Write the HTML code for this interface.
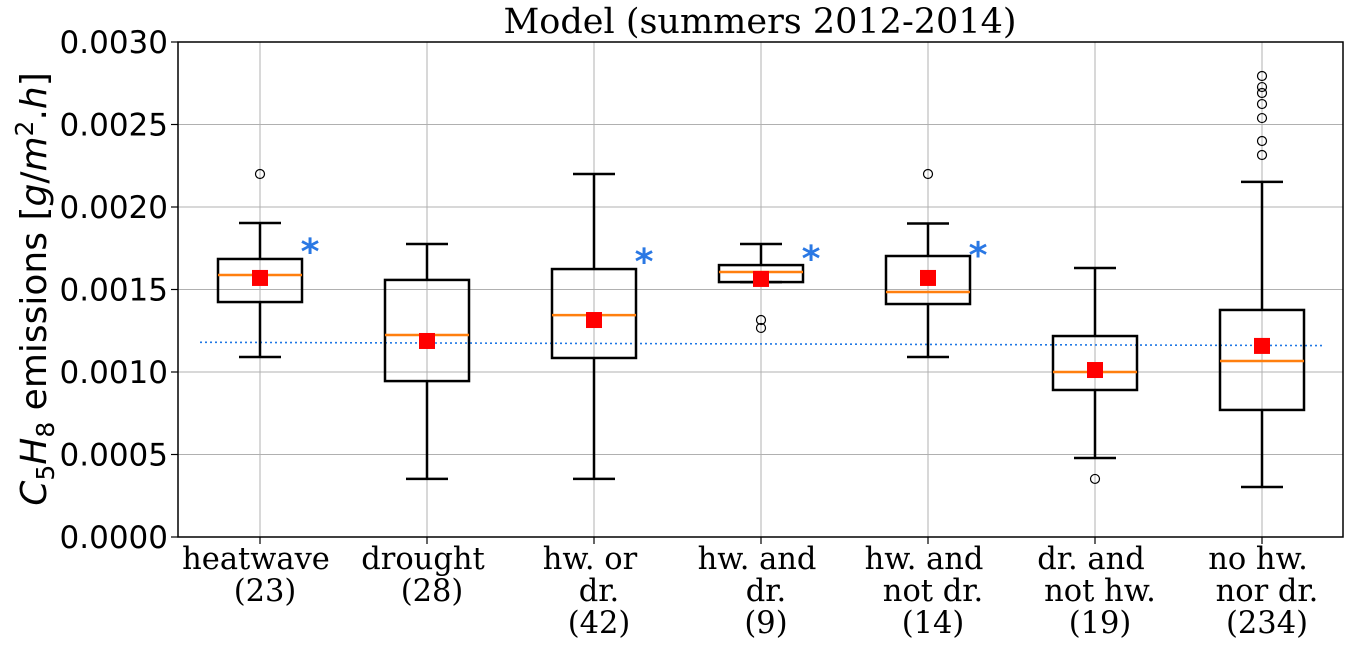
<!DOCTYPE html>
<html><head><meta charset="utf-8"><style>
body{margin:0;background:#fff;width:1359px;height:647px;overflow:hidden}
svg text{fill:#000}
</style></head><body>
<svg id="chart" width="1359" height="647" xmlns="http://www.w3.org/2000/svg">
<text x="760" y="33" text-anchor="middle" font-family="'DejaVu Serif','Liberation Serif',serif" font-size="35">Model (summers 2012-2014)</text>
<g id="grid"></g><g id="yticks"></g><g id="boxes"></g><g id="xlabels"></g>
<text transform="translate(46,289) rotate(-90)" text-anchor="middle" font-family="'DejaVu Sans','Liberation Sans',sans-serif" font-size="36"><tspan font-style="italic">C</tspan><tspan font-size="25" dy="8">5</tspan><tspan font-style="italic" dy="-8">H</tspan><tspan font-size="25" dy="8">8</tspan><tspan dy="-8"> emissions [</tspan><tspan font-style="italic">g</tspan><tspan>/</tspan><tspan font-style="italic">m</tspan><tspan font-size="25" dy="-13">2</tspan><tspan dy="13">.</tspan><tspan font-style="italic">h</tspan><tspan>]</tspan></text>
<rect x="178" y="42" width="1165" height="495" fill="none" stroke="#000" stroke-width="1.5"/>
</svg>
<script>
const categories=["heatwave\n(23)","drought\n(28)","hw. or\ndr.\n(42)","hw. and\ndr.\n(9)","hw. and\nnot dr.\n(14)","dr. and\nnot hw.\n(19)","no hw.\nnor dr.\n(234)"];
const whiskLo=[0.001091,0.000352,0.000352,0.001545,0.001091,0.000479,0.000303];
const q1=[0.001424,0.000945,0.001085,0.001545,0.001412,0.000891,0.00077];
const medians=[0.001588,0.001224,0.001345,0.001606,0.001485,0.001,0.001067];
const q3=[0.001685,0.001558,0.001624,0.001648,0.001703,0.001218,0.001376];
const whiskHi=[0.001903,0.001776,0.0022,0.001776,0.0019,0.00163,0.002152];
const means=[0.00157,0.001188,0.001315,0.001564,0.00157,0.001012,0.001158];
const outliers=[[0.0022],[],[],[0.001315,0.001267],[0.0022],[0.000352],[0.002794,0.002727,0.002691,0.002624,0.002539,0.0024,0.002315]];
const starValues=[0.00177,null,0.00171,0.001727,0.00175,null,null];
const refLine=[0.00118,0.00116];
const yTicks=[0,0.0005,0.001,0.0015,0.002,0.0025,0.003];
const yTickLabels=["0.0000","0.0005","0.0010","0.0015","0.0020","0.0025","0.0030"];
const NS="http://www.w3.org/2000/svg";
const L=178,R=1343,T=42,B=537;
const y=v=>B-(v/0.003)*(B-T);
const x=i=>260+i*167;
function mk(tag,attrs,parent){const e=document.createElementNS(NS,tag);for(const k in attrs)e.setAttribute(k,attrs[k]);document.getElementById(parent).appendChild(e);return e;}
yTicks.forEach((v,i)=>{
 const g=mk('line',{x1:L,x2:R,y1:y(v),y2:y(v),stroke:'#b0b0b0','stroke-width':1},'grid');
 
 
 const t=mk('line',{x1:L-7,x2:L,y1:y(v),y2:y(v),stroke:'#000','stroke-width':1.2},'yticks');
 
 
 const tx=mk('text',{x:L-10,y:y(v)+11,'text-anchor':'end','font-family':"'DejaVu Sans','Liberation Sans',sans-serif",'font-size':31},'yticks');
 tx.textContent=yTickLabels[i];
 
 
});
categories.forEach((c,i)=>{
 const cx=x(i);
 const g=mk('line',{x1:cx,x2:cx,y1:T,y2:B,stroke:'#b0b0b0','stroke-width':1},'grid');
 
 
 const tk=mk('line',{x1:cx,x2:cx,y1:B,y2:B+7,stroke:'#000','stroke-width':1.2},'xlabels');
 
 
 c.split("\n").forEach((ln,j)=>{
  const t=mk('text',{x:cx+(j>0?5:-4),y:569+j*32,'text-anchor':'middle','font-family':"'DejaVu Serif','Liberation Serif',serif",'font-size':30.5},'xlabels');
  t.textContent=ln;
  
  
 });
});
const rl=mk('line',{x1:200,x2:1325,y1:y(refLine[0]),y2:y(refLine[1]),stroke:'#1f77e4','stroke-width':1.6,'stroke-dasharray':'2,3'},'grid');


categories.forEach((c,i)=>{
 const cx=x(i),hw=42,cw=21;
 const s={stroke:'#000','stroke-width':2.5,fill:'none'};
 const w1=mk('line',Object.assign({x1:cx,x2:cx,y1:y(q1[i]),y2:y(whiskLo[i])},s),'boxes');
 
 
 const w2=mk('line',Object.assign({x1:cx,x2:cx,y1:y(q3[i]),y2:y(whiskHi[i])},s),'boxes');
 
 
 const c1=mk('line',Object.assign({x1:cx-cw,x2:cx+cw,y1:y(whiskLo[i]),y2:y(whiskLo[i])},s),'boxes');
 
 
 const c2=mk('line',Object.assign({x1:cx-cw,x2:cx+cw,y1:y(whiskHi[i]),y2:y(whiskHi[i])},s),'boxes');
 
 
 const bx=mk('rect',Object.assign({x:cx-hw,y:y(q3[i]),width:2*hw,height:y(q1[i])-y(q3[i])},s),'boxes');
 
 
 const md=mk('line',{x1:cx-hw,x2:cx+hw,y1:y(medians[i]),y2:y(medians[i]),stroke:'#ff7f0e','stroke-width':2.5},'boxes');
 
 
 outliers[i].forEach(o=>{
  const p=mk('circle',{cx:cx,cy:y(o),r:4.5,fill:'none',stroke:'#000','stroke-width':1.2},'boxes');
  
  
 });
 const mn=mk('rect',{x:cx-8,y:y(means[i])-8,width:16,height:16,fill:'#ff0000'},'boxes');
 
 
 if(starValues[i]!==null){
  const st=mk('text',{x:cx+50,y:y(starValues[i])+19,'text-anchor':'middle','font-family':"'DejaVu Sans',sans-serif",'font-size':36,'font-weight':'bold',style:'fill:#2a78e4'},'boxes');
  st.textContent='*';
  
  
 }
});
</script>
</body></html>
